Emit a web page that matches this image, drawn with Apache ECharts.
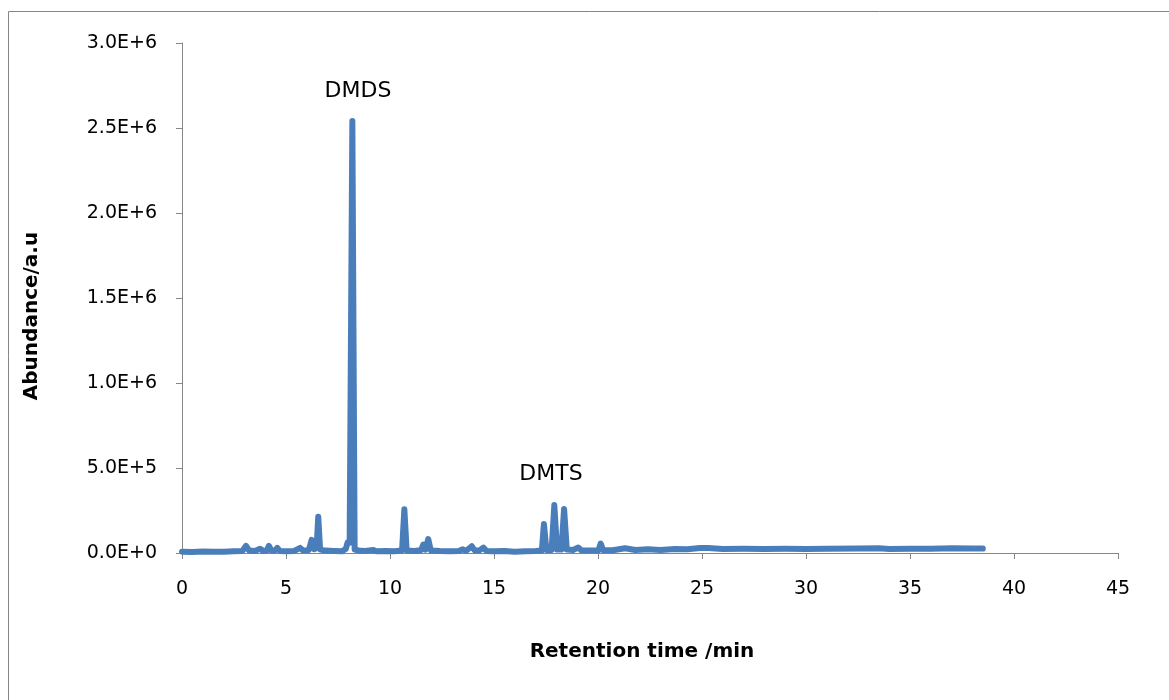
<!DOCTYPE html>
<html>
<head>
<meta charset="utf-8">
<script src="https://cdn.jsdelivr.net/npm/echarts@6/dist/echarts.min.js"></script>
<style>
  html, body { margin: 0; padding: 0; background: #fff; }
  #chart { width: 1169px; height: 700px; }
</style>
</head>
<body>
<div id="chart"></div>
<script>
// Chromatogram: retention time (min) and detector abundance (a.u.)
const retentionTimes = [
  0.0, 0.5, 1.0, 1.5, 2.0, 2.5, 2.9, 3.08, 3.22, 3.5, 3.75, 3.9, 4.08, 4.18, 4.3,
  4.48, 4.58, 4.7, 5.0, 5.4, 5.68, 5.82, 6.1, 6.23, 6.36, 6.47, 6.55, 6.64, 6.9,
  7.3, 7.7, 7.88, 7.96, 8.06, 8.19, 8.3, 8.5, 8.8, 9.2, 9.35, 9.8, 10.2, 10.58,
  10.69, 10.8, 11.2, 11.5, 11.6, 11.7, 11.84, 11.96, 12.4, 12.9, 13.3, 13.5, 13.65,
  13.93, 14.08, 14.3, 14.49, 14.64, 15.0, 15.5, 16.0, 16.5, 17.0, 17.3, 17.4, 17.52,
  17.77, 17.9, 18.03, 18.24, 18.37, 18.5, 18.8, 19.05, 19.22, 19.7, 20.02, 20.13,
  20.25, 20.7, 21.3, 21.8, 22.4, 23.0, 23.7, 24.3, 24.9, 25.3, 26.0, 27.0, 28.0,
  29.0, 30.0, 31.0, 32.5, 33.5, 34.0, 35.0, 36.0, 37.0, 38.0, 38.5
];
const abundance = [
  8000, 6000, 9000, 7000, 8000, 10000, 12000, 42000, 15000, 12000, 25000, 12000, 15000, 42000, 14000,
  15000, 30000, 12000, 10000, 12000, 30000, 14000, 18000, 77000, 22000, 30000, 213000, 20000, 14000,
  12000, 10000, 25000, 62000, 60000, 2541000, 20000, 15000, 12000, 18000, 10000, 12000, 10000, 15000,
  258000, 15000, 12000, 18000, 50000, 20000, 82000, 15000, 12000, 10000, 12000, 22000, 12000,
  40000, 14000, 15000, 32000, 12000, 10000, 12000, 8000, 10000, 12000, 15000, 170000, 18000,
  18000, 282000, 20000, 20000, 259000, 20000, 18000, 32000, 14000, 15000, 15000, 56000,
  16000, 16000, 28000, 18000, 22000, 18000, 24000, 22000, 30000, 30000, 24000, 25000, 24000,
  25000, 24000, 25000, 27000, 28000, 24000, 25000, 25000, 28000, 27000, 26000
];

// Peak annotations: compound name and where its label sits
const peakLabels = ['DMDS', 'DMTS'];
const peakLabelTimes = [8.46, 17.74];
const peakLabelLevels = [2717000, 465000];

const xTicks = { min: 0, max: 45, step: 5 };
const yTicks = { min: 0, max: 3000000, step: 500000 };

const xTitle = 'Retention time /min';
const yTitle = 'Abundance/a.u';

const series = retentionTimes.map((t, i) => [t, abundance[i]]);
const labelPoints = peakLabels.map((name, i) => ({
  name: name,
  coord: [peakLabelTimes[i], peakLabelLevels[i]]
}));

const font = 'DejaVu Sans';
const axisGray = '#868686';

const chart = echarts.init(document.getElementById('chart'), null, { renderer: 'canvas' });
chart.setOption({
  animation: false,
  backgroundColor: '#ffffff',
  graphic: [
    {
      type: 'rect',
      shape: { x: 8.5, y: 11.5, width: 1300, height: 900 },
      style: { fill: 'none', stroke: axisGray, lineWidth: 1 },
      silent: true,
      z: -1
    },
    {
      // x-axis title
      type: 'text',
      x: 642, y: 652,
      style: {
        text: xTitle, fontFamily: font, fontSize: 20, fontWeight: 'bold',
        fill: '#000', align: 'center', verticalAlign: 'middle'
      },
      silent: true
    },
    {
      // y-axis title, rotated
      type: 'text',
      x: 32, y: 316,
      rotation: Math.PI / 2,
      style: {
        text: yTitle, fontFamily: font, fontSize: 20, fontWeight: 'bold',
        fill: '#000', align: 'center', verticalAlign: 'middle'
      },
      silent: true
    }
  ],
  grid: { left: 182, right: 51, top: 43, bottom: 147, containLabel: false },
  xAxis: {
    type: 'value',
    min: xTicks.min, max: xTicks.max, interval: xTicks.step,
    axisLine: { lineStyle: { color: axisGray, width: 1 } },
    axisTick: { show: true, inside: false, length: 6, lineStyle: { color: axisGray } },
    axisLabel: { fontFamily: font, fontSize: 19, color: '#000', margin: 27 },
    splitLine: { show: false }
  },
  yAxis: {
    type: 'value',
    min: yTicks.min, max: yTicks.max, interval: yTicks.step,
    axisLine: { show: true, lineStyle: { color: axisGray, width: 1 } },
    axisTick: { show: true, inside: false, length: 6, lineStyle: { color: axisGray } },
    axisLabel: {
      fontFamily: font, fontSize: 19, color: '#000', margin: 25,
      formatter: v => v.toExponential(1).toUpperCase()
    },
    splitLine: { show: false }
  },
  series: [{
    type: 'line',
    data: series,
    showSymbol: false,
    smooth: false,
    lineStyle: { color: '#4a7ebb', width: 6, cap: 'round', join: 'round' },
    markPoint: {
      symbol: 'circle',
      symbolSize: 0,
      silent: true,
      label: {
        show: true,
        position: 'inside',
        formatter: p => p.name,
        fontFamily: font, fontSize: 22, color: '#000'
      },
      data: labelPoints
    }
  }]
});
</script>
</body>
</html>
